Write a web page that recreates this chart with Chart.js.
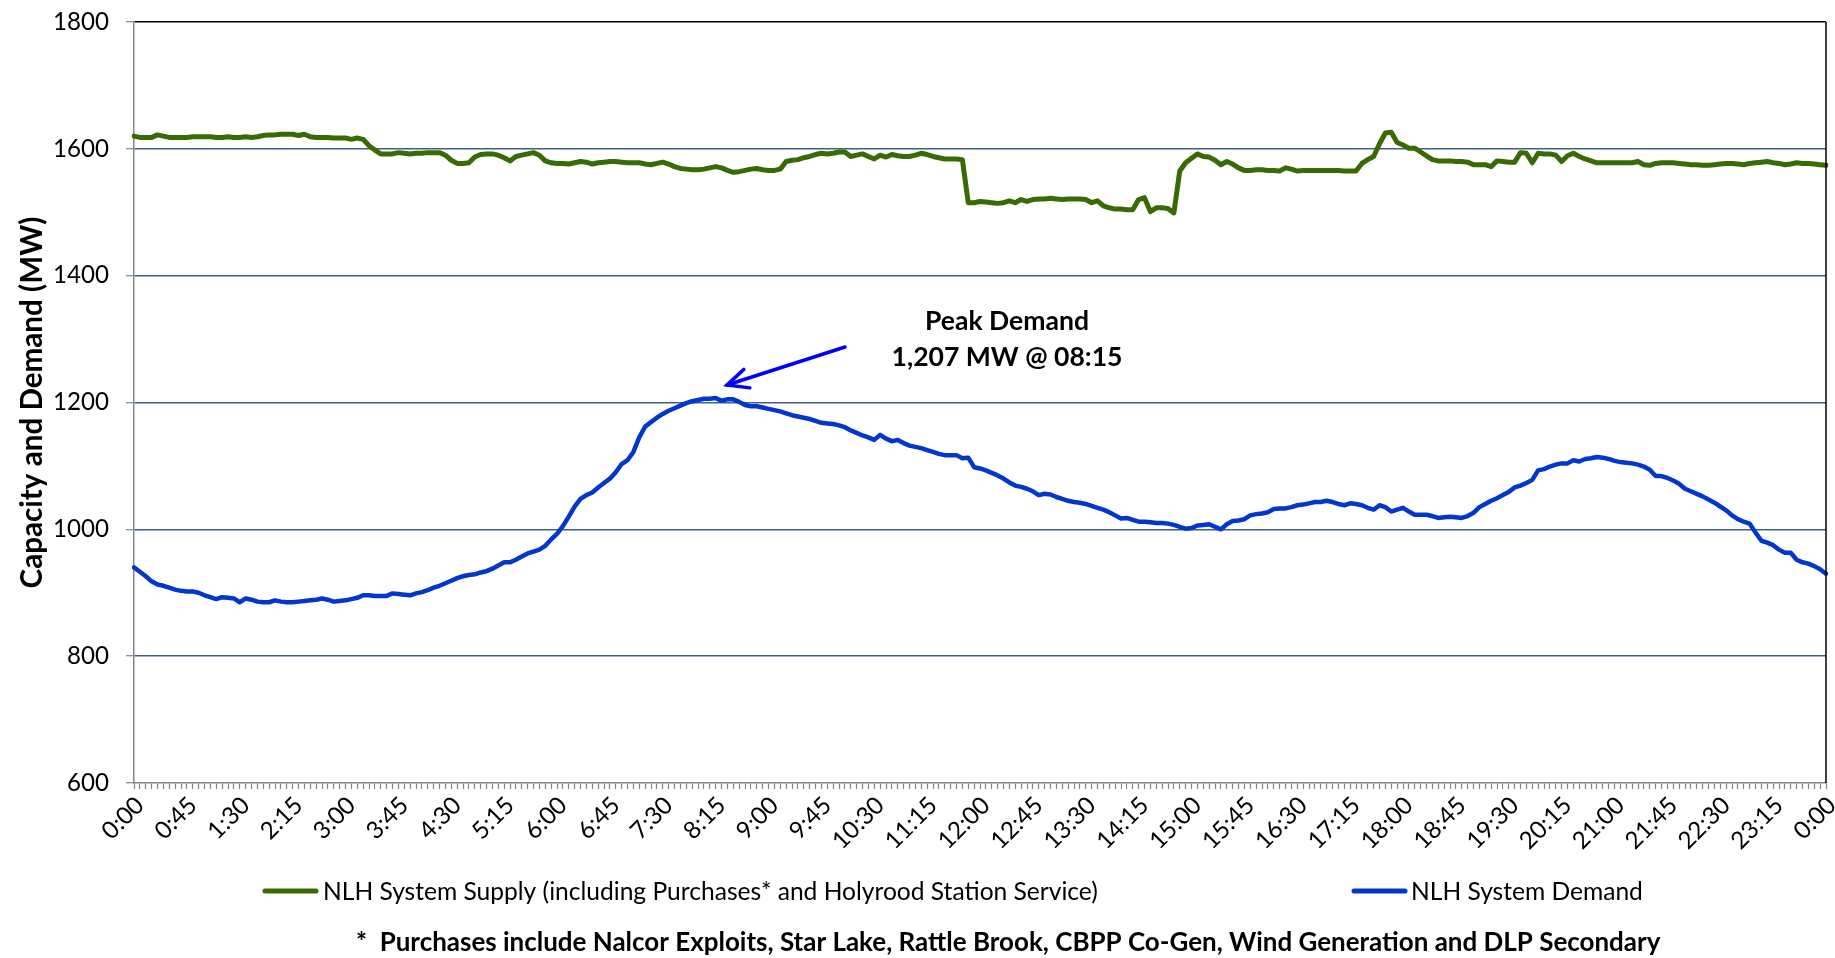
<!DOCTYPE html>
<html><head><meta charset="utf-8">
<script src="https://cdn.jsdelivr.net/npm/chart.js@4.4.1/dist/chart.umd.min.js"></script>
<style>html,body{margin:0;padding:0;background:#fff;}#wrap{position:relative;width:1835px;height:958px;}canvas{display:block;}</style>
</head><body><div id="wrap"><canvas id="c" width="1835" height="958"></canvas></div>
<script>
// ---- Data (5-minute readings, 0:00 to 24:00) ----
const timeLabels = [];
for (let m = 0; m <= 1440; m += 5) { const h = Math.floor(m / 60) % 24; const mm = m % 60; timeLabels.push(h + ':' + (mm < 10 ? '0' : '') + mm); }

const tickLabels = ['0:00','0:45','1:30','2:15','3:00','3:45','4:30','5:15','6:00','6:45','7:30','8:15','9:00','9:45','10:30','11:15','12:00','12:45','13:30','14:15','15:00','15:45','16:30','17:15','18:00','18:45','19:30','20:15','21:00','21:45','22:30','23:15','0:00'];
const yTicks = [600, 800, 1000, 1200, 1400, 1600, 1800];

const supply = [
1620,1618,1618,1618,1622,1620,1618,1618,1618,1618,1619,1619,
1619,1619,1618,1618,1619,1618,1618,1619,1618,1619,1621,1622,
1622,1623,1623,1623,1621,1623,1619,1618,1618,1618,1617,1617,
1617,1615,1617,1615,1605,1598,1592,1592,1592,1594,1593,1592,
1593,1593,1594,1594,1594,1590,1582,1577,1577,1578,1587,1591,
1592,1592,1590,1586,1581,1588,1590,1592,1594,1590,1581,1578,
1577,1577,1576,1578,1580,1579,1576,1578,1579,1580,1580,1579,
1578,1578,1578,1576,1575,1577,1579,1576,1572,1569,1568,1567,
1567,1568,1570,1572,1570,1566,1563,1564,1566,1568,1569,1567,
1566,1566,1568,1580,1582,1583,1586,1588,1591,1593,1592,1593,
1595,1595,1588,1590,1592,1588,1584,1590,1587,1591,1589,1588,
1588,1590,1593,1591,1588,1586,1584,1584,1584,1583,1515,1515,
1517,1516,1515,1514,1515,1518,1515,1520,1517,1520,1521,1521,
1522,1521,1520,1521,1521,1521,1520,1515,1518,1510,1507,1505,
1505,1504,1504,1520,1523,1501,1507,1507,1506,1499,1565,1578,
1585,1592,1588,1587,1582,1575,1580,1576,1570,1566,1566,1567,
1567,1566,1566,1565,1570,1568,1565,1566,1566,1566,1566,1566,
1566,1566,1565,1565,1565,1577,1583,1588,1608,1625,1626,1610,
1606,1601,1601,1595,1589,1583,1581,1581,1581,1580,1580,1579,
1575,1575,1575,1572,1581,1580,1579,1579,1594,1593,1578,1593,
1592,1592,1590,1580,1589,1593,1588,1584,1581,1578,1578,1578,
1578,1578,1578,1578,1580,1575,1574,1577,1578,1578,1578,1577,
1576,1575,1575,1574,1574,1575,1576,1577,1577,1576,1575,1577,
1578,1579,1580,1578,1577,1575,1576,1578,1577,1577,1576,1575,
1574];

const demand = [
940,933,926,918,913,911,908,905,903,902,902,900,
896,893,890,893,892,891,885,891,889,886,885,885,
888,886,885,885,886,887,888,889,891,889,886,887,
888,890,892,896,896,895,895,895,899,898,897,896,
899,901,904,908,911,915,919,923,926,928,929,932,
934,938,943,948,948,952,957,962,965,968,974,984,
993,1005,1020,1036,1048,1054,1058,1066,1073,1080,1090,1103,
1109,1122,1145,1162,1169,1176,1182,1187,1191,1195,1199,1202,
1204,1206,1206,1207,1203,1205,1205,1201,1196,1194,1194,1192,
1190,1188,1186,1183,1180,1178,1176,1174,1171,1168,1167,1166,
1164,1161,1156,1152,1148,1145,1141,1149,1143,1139,1141,1136,
1132,1130,1128,1125,1122,1119,1117,1117,1117,1112,1113,1098,
1096,1093,1089,1085,1080,1074,1069,1067,1064,1060,1054,1056,
1055,1051,1048,1045,1043,1042,1040,1037,1034,1031,1027,1022,
1017,1018,1015,1012,1012,1011,1010,1010,1009,1007,1004,1001,
1002,1006,1007,1008,1004,1000,1008,1013,1014,1016,1022,1024,
1025,1027,1032,1033,1033,1035,1038,1039,1041,1043,1043,1045,
1043,1040,1038,1041,1040,1038,1034,1031,1038,1035,1028,1031,
1034,1028,1023,1023,1023,1021,1018,1019,1020,1019,1018,1021,
1026,1035,1040,1045,1049,1054,1059,1066,1069,1073,1078,1093,
1095,1099,1102,1104,1104,1109,1107,1111,1112,1114,1113,1111,
1108,1106,1105,1104,1102,1099,1094,1084,1084,1081,1077,1072,
1064,1060,1056,1052,1047,1042,1036,1030,1022,1016,1012,1009,
995,982,979,975,968,963,963,952,948,946,942,937,
930];

const seriesNames = ['NLH System Supply (including Purchases* and Holyrood Station Service)', 'NLH System Demand'];
const yTitle = 'Capacity and Demand (MW)';
const footnote = '*  Purchases include Nalcor Exploits, Star Lake, Rattle Brook, CBPP Co-Gen, Wind Generation and DLP Secondary';
const annotLines = ['Peak Demand', '1,207 MW @ 08:15'];

// ---- Styling ----
const FAMILY = 'Lato, "Open Sans", sans-serif';
const GREEN = '#386B06';
const BLUE = '#0336CC';
const mctx = document.createElement('canvas').getContext('2d');
function fitSize(text, weight, target, base) {
  mctx.font = weight + ' ' + base + 'px ' + FAMILY;
  const w = mctx.measureText(text).width;
  return base * target / w;
}
const tickSize = fitSize('1800', 'normal', 56, 22);
const titleSize = fitSize(yTitle, 'bold', 372, 26);
const legSize = fitSize(seriesNames[0], 'normal', 775, 22);
const footSize = fitSize(footnote, 'bold', 1305, 22);
const annSize = fitSize(annotLines[1], 'bold', 231, 26);

const overlay = {
  id: 'overlay',
  afterDraw(chart) {
    const { ctx, chartArea: a } = chart;
    ctx.save();
    // plot border right
    ctx.strokeStyle = '#000'; ctx.lineWidth = 1.5;
    ctx.beginPath(); ctx.moveTo(a.right, a.top); ctx.lineTo(a.right, a.bottom); ctx.stroke();

    // Annotation text
    ctx.fillStyle = '#000';
    ctx.textAlign = 'center'; ctx.textBaseline = 'middle';
    ctx.font = 'bold ' + annSize + 'px ' + FAMILY;
    ctx.fillText(annotLines[0], 1007, 321);
    ctx.fillText(annotLines[1], 1007, 357);

    // Arrow
    const tip = [727, 385], tail = [845, 347];
    ctx.strokeStyle = '#0000FF'; ctx.lineWidth = 3.5; ctx.lineCap = 'round';
    ctx.beginPath(); ctx.moveTo(tail[0], tail[1]); ctx.lineTo(tip[0], tip[1]); ctx.stroke();
    const ang = Math.atan2(tail[1] - tip[1], tail[0] - tip[0]);
    const hl = 23, spread = 25 * Math.PI / 180;
    ctx.beginPath();
    ctx.moveTo(tip[0] + hl * Math.cos(ang - spread), tip[1] + hl * Math.sin(ang - spread));
    ctx.lineTo(tip[0], tip[1]);
    ctx.lineTo(tip[0] + hl * Math.cos(ang + spread), tip[1] + hl * Math.sin(ang + spread));
    ctx.stroke();

    // Legend
    ctx.textAlign = 'left'; ctx.textBaseline = 'middle';
    ctx.font = 'normal ' + legSize + 'px ' + FAMILY;
    const legY = 891;
    ctx.lineWidth = 5;
    ctx.strokeStyle = GREEN;
    ctx.beginPath(); ctx.moveTo(265, legY); ctx.lineTo(316, legY); ctx.stroke();
    ctx.fillStyle = '#000';
    ctx.fillText(seriesNames[0], 323, legY + 1);
    ctx.strokeStyle = BLUE;
    ctx.beginPath(); ctx.moveTo(1354, legY); ctx.lineTo(1405, legY); ctx.stroke();
    ctx.fillText(seriesNames[1], 1411, legY + 1);

    // Footnote
    ctx.font = 'bold ' + footSize + 'px ' + FAMILY;
    ctx.fillText(footnote, 356, 943);
    ctx.restore();
  }
};

new Chart(document.getElementById('c'), {
  type: 'line',
  data: {
    labels: timeLabels,
    datasets: [
      { label: seriesNames[0], data: supply, borderColor: GREEN, backgroundColor: GREEN, borderWidth: 5, pointRadius: 0, tension: 0, borderJoinStyle: 'round', borderCapStyle: 'round' },
      { label: seriesNames[1], data: demand, borderColor: BLUE, backgroundColor: BLUE, borderWidth: 4.5, pointRadius: 0, tension: 0, borderJoinStyle: 'round', borderCapStyle: 'round' }
    ]
  },
  options: {
    responsive: false,
    animation: false,
    devicePixelRatio: 1,
    layout: { padding: { left: 0, top: 22, right: 9, bottom: 0 } },
    plugins: { legend: { display: false }, tooltip: { enabled: false } },
    scales: {
      x: {
        type: 'category',
        offset: false,
        afterFit: (s) => { s.height = 175; s.paddingLeft = 0; s.paddingRight = 0; s.paddingTop = 0; s.paddingBottom = 0; },
        grid: { display: true, drawOnChartArea: false, drawTicks: true, tickLength: 6, tickColor: '#868686', tickWidth: 1.2 },
        border: { display: true, color: '#868686', width: 1.5 },
        ticks: {
          autoSkip: false, maxRotation: 45, minRotation: 45, padding: 2, labelOffset: 6,
          color: '#000', font: { family: FAMILY, size: tickSize },
          callback: (v, i) => (i % 9 === 0 ? tickLabels[i / 9] : '')
        }
      },
      y: {
        min: yTicks[0], max: yTicks[yTicks.length - 1],
        afterFit: (s) => { s.width = 134; s.paddingTop = 0; s.paddingBottom = 0; s.paddingLeft = 0; s.paddingRight = 0; },
        afterBuildTicks: (s) => { s.ticks = yTicks.map(v => ({ value: v })); },
        grid: {
          color: (c) => (c.tick && c.tick.value === 1800 ? '#000' : (c.tick && c.tick.value === 600 ? 'rgba(0,0,0,0)' : '#3E5E8C')),
          lineWidth: 1.4, tickColor: '#868686', tickLength: 8, tickWidth: 1.2
        },
        border: { display: true, color: '#868686', width: 1.5 },
        ticks: { padding: 17, color: '#000', font: { family: FAMILY, size: tickSize }, callback: (v) => String(v) },
        title: { display: true, text: yTitle, color: '#000', font: { family: FAMILY, size: titleSize, weight: 'bold' }, padding: { top: 15, bottom: 0 } }
      }
    }
  },
  plugins: [overlay]
});
</script></body></html>
